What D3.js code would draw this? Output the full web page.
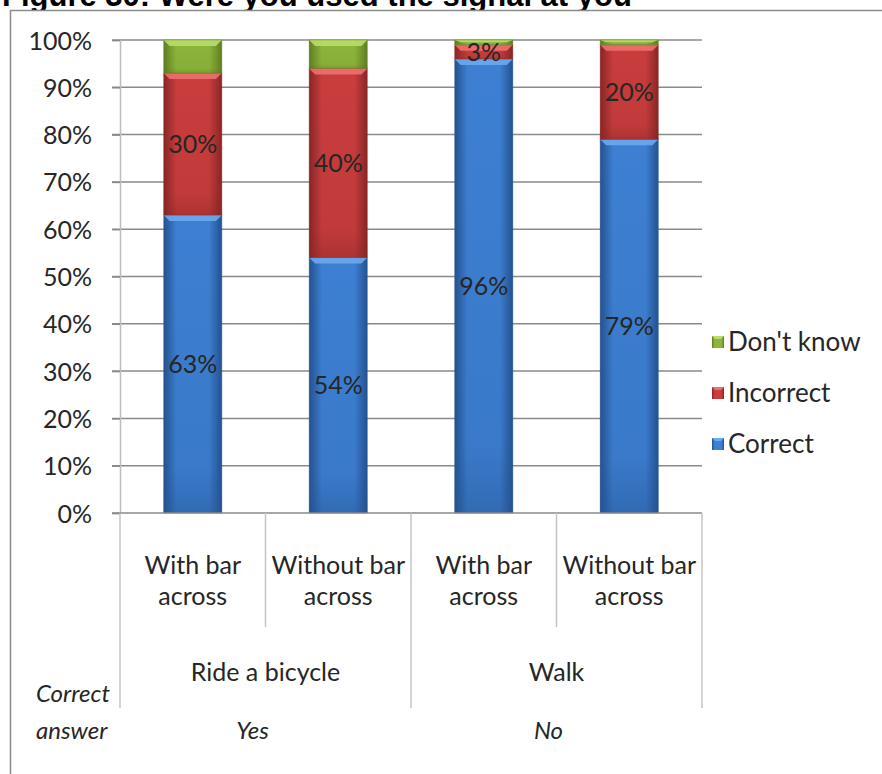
<!DOCTYPE html>
<html>
<head>
<meta charset="utf-8">
<script src="https://cdn.jsdelivr.net/npm/d3@7"></script>
<style>
  html, body { margin: 0; padding: 0; background: #fff; }
  svg { display: block; }
  text { font-family: Lato, "Open Sans", sans-serif; fill: #262626; }
</style>
</head>
<body>
<svg id="chart" width="882" height="774"></svg>
<script>
// ---- data ----
const titleText = "Figure 30: Were you used the signal at you";
const categories = ["With bar across (bicycle)", "Without bar across (bicycle)", "With bar across (walk)", "Without bar across (walk)"];
const categoryLines = [["With bar", "across"], ["Without bar", "across"], ["With bar", "across"], ["Without bar", "across"]];
const groups = ["Ride a bicycle", "Walk"];
const correctAnswers = ["Yes", "No"];
const seriesNames = ["Correct", "Incorrect", "Don't know"];
const correctValues = [63, 54, 96, 79];
const incorrectValues = [30, 40, 3, 20];
const dontKnowValues = [7, 6, 1, 1];
const labelCorrect = ["63%", "54%", "96%", "79%"];
const labelIncorrect = ["30%", "40%", "3%", "20%"];
const yTicks = [0, 10, 20, 30, 40, 50, 60, 70, 80, 90, 100];

const svg = d3.select("#chart");

// title (clipped at the top edge, as in the source image)
svg.append("text").attr("x", 2).attr("y", 6)
  .style("font-family", "'Liberation Sans', Arial, sans-serif")
  .style("font-weight", "bold").style("font-size", "31px").style("fill", "#000")
  .text(titleText);

// chart area border
svg.append("rect").attr("x", 10.5).attr("y", 10.5).attr("width", 900).attr("height", 800)
  .attr("fill", "#fff").attr("stroke", "#8c8c8c").attr("stroke-width", 1.5);

const pL = 120, pR = 702, pT = 40, pB = 513;
const x = d3.scaleBand().domain(categories).range([pL, pR]).paddingInner(0.6).paddingOuter(0.3);
const y = d3.scaleLinear().domain([0, 100]).range([pB, pT]);

// gridlines
svg.append("g").selectAll("line").data(yTicks.filter(d => d > 0)).join("line")
  .attr("x1", pL - 8).attr("x2", pR).attr("y1", d => y(d)).attr("y2", d => y(d))
  .attr("stroke", "#8a8a8a").attr("stroke-width", 1.5);

// y axis
const yAxis = d3.axisLeft(y).tickValues(yTicks).tickFormat(d => d + "%").tickSize(8).tickPadding(20);
const gy = svg.append("g").attr("transform", `translate(${pL},0)`).call(yAxis);
gy.select(".domain").attr("stroke", "#bdbdbd").attr("stroke-width", 1.5);
gy.selectAll(".tick line").attr("stroke", "#8a8a8a").attr("stroke-width", 1.5);
gy.selectAll(".tick text").style("font-family", "Lato, sans-serif").style("font-size", "25px")
  .attr("fill", "#262626").attr("dy", "0.36em");

// gradients
const defs = svg.append("defs");
const palette = {
  "Correct": { main: "#3d7fd2", light: "#6aaaf0", dark: "#24528f", edge: "#2f66ad" },
  "Incorrect": { main: "#c93d3d", light: "#ef6f6f", dark: "#8a2424", edge: "#a53131" },
  "Don't know": { main: "#8db63c", light: "#b8de6a", dark: "#5e7c22", edge: "#76982f" }
};
seriesNames.forEach((s, i) => {
  const p = palette[s];
  const g = defs.append("linearGradient").attr("id", "g" + i).attr("x1", 0).attr("x2", 1).attr("y1", 0).attr("y2", 0);
  g.append("stop").attr("offset", "0%").attr("stop-color", p.dark);
  g.append("stop").attr("offset", "10%").attr("stop-color", p.edge);
  g.append("stop").attr("offset", "22%").attr("stop-color", p.main);
  g.append("stop").attr("offset", "78%").attr("stop-color", p.main);
  g.append("stop").attr("offset", "90%").attr("stop-color", p.edge);
  g.append("stop").attr("offset", "100%").attr("stop-color", p.dark);
  const v = defs.append("linearGradient").attr("id", "v" + i).attr("x1", 0).attr("x2", 0).attr("y1", 0).attr("y2", 1);
  v.append("stop").attr("offset", "0%").attr("stop-color", p.dark).attr("stop-opacity", 0);
  v.append("stop").attr("offset", "85%").attr("stop-color", p.dark).attr("stop-opacity", 0.12);
  v.append("stop").attr("offset", "100%").attr("stop-color", p.dark).attr("stop-opacity", 0.45);
});

// stacked data
const table = categories.map((c, i) => ({ cat: c, "Correct": correctValues[i], "Incorrect": incorrectValues[i], "Don't know": dontKnowValues[i] }));
const stack = d3.stack().keys(seriesNames)(table);

stack.forEach((layer, si) => {
  const p = palette[layer.key];
  const g = svg.append("g");
  layer.forEach(d => {
    const x0 = x(d.data.cat), w = x.bandwidth();
    const yTop = y(d[1]), yBot = y(d[0]);
    const h = yBot - yTop;
    if (h <= 0) return;
    g.append("rect").attr("x", x0).attr("y", yTop).attr("width", w).attr("height", h).attr("fill", `url(#g${si})`);
    g.append("rect").attr("x", x0).attr("y", yTop).attr("width", w).attr("height", h).attr("fill", `url(#v${si})`);
    const bev = Math.min(6, h / 2);
    g.append("path")
      .attr("d", `M${x0},${yTop} L${x0 + w},${yTop} L${x0 + w - 6},${yTop + bev} L${x0 + 6},${yTop + bev} Z`)
      .attr("fill", p.light).attr("opacity", 0.9);
    g.append("rect").attr("x", x0).attr("y", yTop).attr("width", w).attr("height", h)
      .attr("fill", "none").attr("stroke", p.dark).attr("stroke-opacity", 0.35).attr("stroke-width", 1);
  });
});

// value labels
const lab = svg.append("g").style("font-size", "25px").attr("text-anchor", "middle");
stack[0].forEach((d, i) => {
  lab.append("text").attr("x", x(d.data.cat) + x.bandwidth() / 2).attr("y", (y(d[0]) + y(d[1])) / 2).attr("dy", "0.36em").text(labelCorrect[i]);
});
stack[1].forEach((d, i) => {
  lab.append("text").attr("x", x(d.data.cat) + x.bandwidth() / 2).attr("y", (y(d[0]) + y(d[1])) / 2).attr("dy", "0.36em").text(labelIncorrect[i]);
});

// category axis
svg.append("line").attr("x1", pL - 8).attr("x2", pR).attr("y1", pB).attr("y2", pB)
  .attr("stroke", "#8a8a8a").attr("stroke-width", 1.5);
const step = x.step();
const sepX = d3.range(categories.length + 1).map(i => pL + i * step);
svg.append("g").selectAll("line").data(sepX).join("line")
  .attr("x1", d => d).attr("x2", d => d).attr("y1", pB)
  .attr("y2", (d, i) => (i % 2 === 0 ? 708 : 627))
  .attr("stroke", "#c4c4c4").attr("stroke-width", 1.5);

const cl = svg.append("g").style("font-size", "25px").attr("text-anchor", "middle");
categories.forEach((c, i) => {
  const cx = x(c) + x.bandwidth() / 2;
  categoryLines[i].forEach((t, j) => {
    cl.append("text").attr("x", cx).attr("y", 574 + j * 31).text(t);
  });
});
groups.forEach((gname, i) => {
  const cx = pL + step * (2 * i + 1);
  cl.append("text").attr("x", cx).attr("y", 681).text(gname);
});
// correct answer row
const ca = svg.append("g").style("font-size", "24px").style("font-style", "italic");
ca.append("text").attr("x", 36).attr("y", 702).text("Correct");
ca.append("text").attr("x", 36).attr("y", 739).text("answer");
correctAnswers.forEach((t, i) => {
  ca.append("text").attr("x", pL + step * (2 * i + 1) - 13 + i * 5).attr("y", 739).attr("text-anchor", "middle").text(t);
});

// legend
const legendOrder = ["Don't know", "Incorrect", "Correct"];
const lg = svg.append("g").attr("transform", "translate(712,342)");
legendOrder.forEach((s, i) => {
  const si = seriesNames.indexOf(s);
  const row = lg.append("g").attr("transform", `translate(0,${i * 51})`);
  row.append("rect").attr("x", 0).attr("y", -6).attr("width", 12).attr("height", 12).attr("fill", `url(#g${si})`);
  row.append("path").attr("d", "M0,-6 L12,-6 L9,-3 L3,-3 Z").attr("fill", palette[s].light);
  row.append("text").attr("x", 16).attr("y", 0).attr("dy", "0.36em").style("font-size", "26px").text(s);
});
</script>
</body>
</html>
